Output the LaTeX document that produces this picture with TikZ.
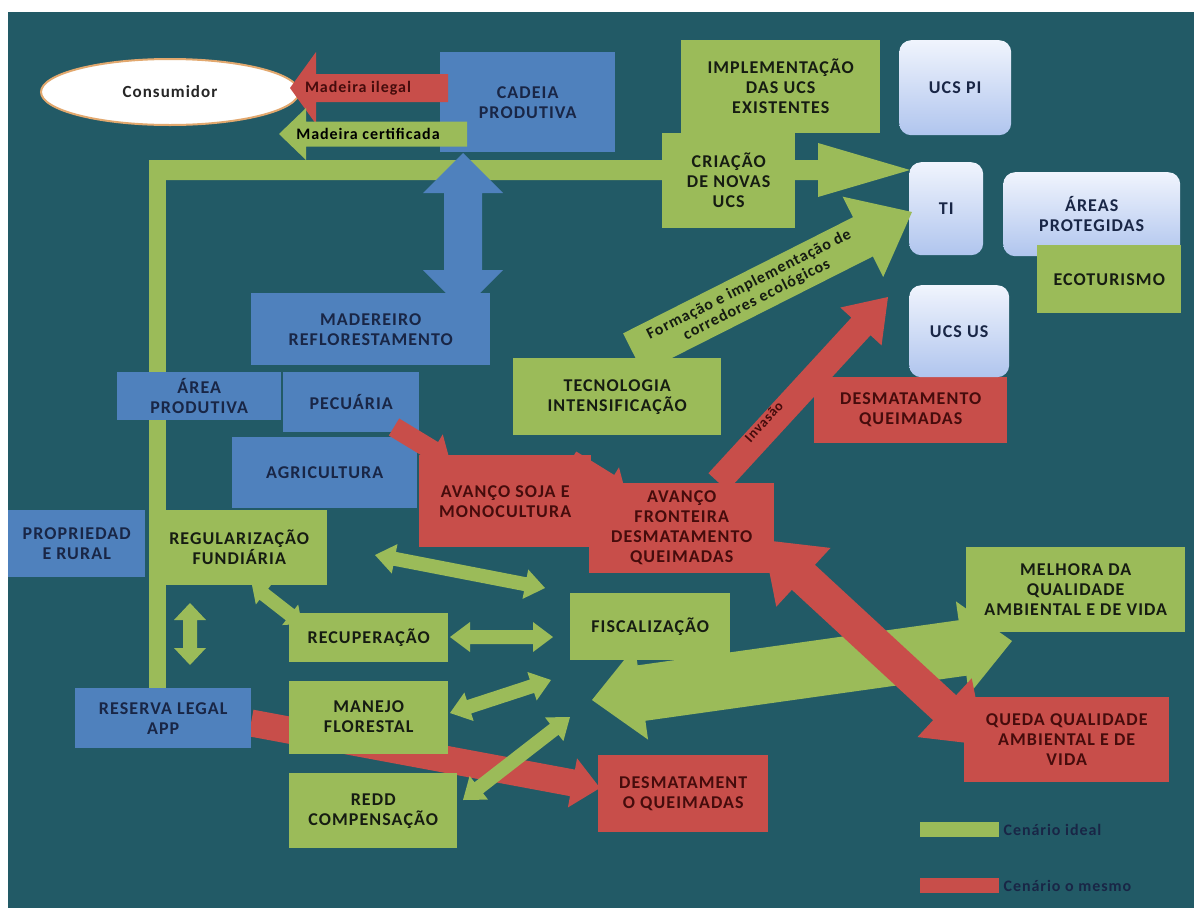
\documentclass[tikz,border=0pt]{standalone}
\usepackage{fontspec}
\setmainfont{Carlito}[LetterSpace=6]
\usetikzlibrary{calc, positioning, shapes.geometric}

\definecolor{bgteal}{RGB}{34,90,102}
\definecolor{okgreen}{RGB}{155,187,89}
\definecolor{prodblue}{RGB}{79,129,189}
\definecolor{badred}{RGB}{200,78,74}
\definecolor{ucstop}{RGB}{240,244,253}
\definecolor{ucsbot}{RGB}{176,197,238}
\definecolor{navytext}{RGB}{25,38,70}
\definecolor{darktext}{RGB}{22,28,18}
\definecolor{maroontext}{RGB}{70,12,12}
\definecolor{glowline}{RGB}{226,168,110}

% fat block arrow: style, from, to, half shaft, half head, head length
\newcommand{\blockarrow}[6]{%
    \coordinate (ba-base) at ($(#3)!#6!(#2)$);
    \fill[#1] ($(#2)!#4!90:(#3)$) -- ($(ba-base)!#4!90:(#3)$) -- ($(ba-base)!#5!90:(#3)$) -- (#3)
        -- ($(ba-base)!#5!-90:(#3)$) -- ($(ba-base)!#4!-90:(#3)$) -- ($(#2)!#4!-90:(#3)$) -- cycle;
}
% same with a head on both ends
\newcommand{\blockdarrow}[6]{%
    \coordinate (ba-base) at ($(#3)!#6!(#2)$);
    \coordinate (ba-tail) at ($(#2)!#6!(#3)$);
    \fill[#1] (#2) -- ($(ba-tail)!#5!90:(#3)$) -- ($(ba-tail)!#4!90:(#3)$) -- ($(ba-base)!#4!90:(#3)$)
        -- ($(ba-base)!#5!90:(#3)$) -- (#3) -- ($(ba-base)!#5!-90:(#3)$) -- ($(ba-base)!#4!-90:(#3)$)
        -- ($(ba-tail)!#4!-90:(#3)$) -- ($(ba-tail)!#5!-90:(#3)$) -- cycle;
}

\begin{document}
\begin{tikzpicture}[x=1pt, y=-1pt, font=\fontsize{18}{20}\selectfont\bfseries]
    \tikzstyle{box}=[rectangle, inner sep=2pt, align=center, anchor=north west]
    \tikzstyle{bluebox}=[box, fill=prodblue, text=navytext]
    \tikzstyle{greenbox}=[box, fill=okgreen, text=darktext]
    \tikzstyle{redbox}=[box, fill=badred, text=maroontext]
    \tikzstyle{ucsbox}=[box, rounded corners=12pt, top color=ucstop, bottom color=ucsbot, text=navytext]
    \tikzstyle{tag}=[inner sep=0pt, font=\fontsize{16}{17}\selectfont\bfseries]

    \useasboundingbox (0,0) rectangle (1194,908);
    \fill[white] (0,0) rectangle (1194,908);
    \fill[bgteal] (8,12) rectangle (1194,908);

    % green L line feeding TI
    \coordinate (l-foot) at (157.5,688);
    \coordinate (l-knee) at (157.5,160);
    \coordinate (l-start) at (149,170);
    \coordinate (l-tip) at (910,170);
    \draw[okgreen, line width=17pt] (l-foot) -- (l-knee);
    \blockarrow{okgreen}{l-start}{l-tip}{10pt}{27pt}{92pt}

    % reserva legal -> desmatamento (runs under manejo)
    \coordinate (rl-a) at (251,723);
    \coordinate (rl-b) at (600,788);
    \blockarrow{badred}{rl-a}{rl-b}{13.5pt}{25pt}{28pt}

    \node[ellipse, fill=white, draw=glowline, line width=2pt, minimum width=258pt, minimum height=66pt,
        font=\fontsize{17}{19}\selectfont\bfseries, text=black!85] (consumidor) at (170,92) {Consumidor};

    \node[bluebox, minimum width=175pt, minimum height=100pt] (cadeia) at (440,52) {CADEIA\\PRODUTIVA};
    \node[greenbox, minimum width=199pt, minimum height=93pt] (implem) at (681,40) {IMPLEMENTAÇÃO\\DAS UCS\\EXISTENTES};
    \node[ucsbox, minimum width=112pt, minimum height=95pt] (ucspi) at (899,40) {UCS PI};
    \node[greenbox, minimum width=133pt, minimum height=95pt] (criacao) at (662,133) {CRIAÇÃO\\DE NOVAS\\UCS};
    \node[ucsbox, minimum width=74pt, minimum height=93pt] (ti) at (909,162) {TI};
    \node[ucsbox, minimum width=177pt, minimum height=84pt] (areas) at (1003,172) {ÁREAS\\PROTEGIDAS};
    \node[greenbox, minimum width=144pt, minimum height=68pt] (ecoturismo) at (1037,245) {ECOTURISMO};
    \node[bluebox, minimum width=239pt, minimum height=72pt] (madereiro) at (251,293) {MADEREIRO\\REFLORESTAMENTO};
    \node[redbox, minimum width=193pt, minimum height=66pt] (desmat) at (814,377) {DESMATAMENTO\\QUEIMADAS};
    \node[ucsbox, minimum width=100pt, minimum height=92pt] (ucsus) at (909,285) {UCS US};
    \node[greenbox, minimum width=208pt, minimum height=77pt] (tecnologia) at (513,358) {TECNOLOGIA\\INTENSIFICAÇÃO};
    \node[bluebox, minimum width=164pt, minimum height=48pt] (areaprod) at (117,372) {ÁREA\\PRODUTIVA};
    \node[bluebox, minimum width=136pt, minimum height=60pt] (pecuaria) at (283,372) {PECUÁRIA};
    \node[bluebox, minimum width=185pt, minimum height=71pt] (agricultura) at (232,437) {AGRICULTURA};
    \node[redbox, minimum width=172pt, minimum height=92pt] (soja) at (419,455) {AVANÇO SOJA E\\MONOCULTURA};
    \node[redbox, minimum width=185pt, minimum height=90pt] (fronteira) at (589,483) {AVANÇO\\FRONTEIRA\\DESMATAMENTO\\QUEIMADAS};
    \node[bluebox, minimum width=137pt, minimum height=67pt] (propriedade) at (8,510) {PROPRIEDAD\\E RURAL};
    \node[greenbox, minimum width=176pt, minimum height=75pt] (regularizacao) at (151,510) {REGULARIZAÇÃO\\FUNDIÁRIA};
    \node[greenbox, minimum width=219pt, minimum height=85pt] (melhora) at (966,547) {MELHORA DA\\QUALIDADE\\AMBIENTAL E DE VIDA};
    \node[greenbox, minimum width=159pt, minimum height=49pt] (recuperacao) at (289,613) {RECUPERAÇÃO};
    \node[greenbox, minimum width=160pt, minimum height=67pt] (fiscalizacao) at (570,593) {FISCALIZAÇÃO};
    \node[bluebox, minimum width=176pt, minimum height=60pt] (reserva) at (75,688) {RESERVA LEGAL\\APP};
    \node[greenbox, below=18pt of recuperacao, minimum width=159pt, minimum height=73pt] (manejo) {MANEJO\\FLORESTAL};
    \node[redbox, minimum width=205pt, minimum height=85pt] (queda) at (964,697) {QUEDA QUALIDADE\\AMBIENTAL E DE\\VIDA};
    \node[greenbox, minimum width=168pt, minimum height=75pt] (redd) at (289,773) {REDD\\COMPENSAÇÃO};
    \node[redbox, minimum width=170pt, minimum height=77pt] (desmat2) at (598,755) {DESMATAMENT\\O QUEIMADAS};

    % timber leaving the chain
    \coordinate (ileg-a) at (448,88);
    \coordinate (ileg-b) at (290,88);
    \blockarrow{badred}{ileg-a}{ileg-b}{14pt}{36pt}{26pt}
    \node[tag, text=maroontext] (ileg-txt) at (358,88) {Madeira ilegal};
    \coordinate (cert-a) at (467,134);
    \coordinate (cert-b) at (279,134);
    \blockarrow{okgreen}{cert-a}{cert-b}{12.5pt}{26pt}{27pt}
    \node[tag, text=black] (cert-txt) at (368,134) {Madeira certificada};

    \coordinate (cad-a) at (463,153);
    \coordinate (cad-b) at (463,310);
    \blockdarrow{prodblue}{cad-a}{cad-b}{19pt}{40pt}{40pt}

    % corridors towards TI
    \coordinate (cor-a) at (633,353);
    \coordinate (cor-b) at (912,212);
    \blockarrow{okgreen}{cor-a}{cor-b}{22pt}{45pt}{55pt}
    \path (cor-a) -- (cor-b) node[tag, sloped, pos=0.43, align=center, font=\fontsize{16}{17}\selectfont\bfseries, text=darktext] (cor-txt) {Formação e implementação de\\corredores ecológicos};

    \coordinate (inv-a) at (718,482);
    \coordinate (inv-b) at (888,297);
    \blockarrow{badred}{inv-a}{inv-b}{13pt}{28pt}{40pt}
    \path (inv-a) -- (inv-b) node[tag, sloped, pos=0.3, above=2pt, font=\fontsize{14}{15}\selectfont\bfseries, text=maroontext] (inv-txt) {Invasão};

    \coordinate (pec-a) at (394,427);
    \coordinate (pec-b) at (450,461);
    \blockarrow{badred}{pec-a}{pec-b}{10pt}{19pt}{20pt}
    \coordinate (soj-a) at (571,460);
    \coordinate (soj-b) at (626,494);
    \blockarrow{badred}{soj-a}{soj-b}{10pt}{19pt}{20pt}

    % links to fiscalizacao
    \coordinate (rf-a) at (375,555);
    \coordinate (rf-b) at (545,588);
    \blockdarrow{okgreen}{rf-a}{rf-b}{7pt}{15pt}{20pt}
    \coordinate (cf-a) at (450,637);
    \coordinate (cf-b) at (553,637);
    \blockdarrow{okgreen}{cf-a}{cf-b}{7pt}{15pt}{20pt}
    \coordinate (mf-a) at (450,713);
    \coordinate (mf-b) at (551,680);
    \blockdarrow{okgreen}{mf-a}{mf-b}{7pt}{15pt}{20pt}
    \coordinate (df-a) at (463,800);
    \coordinate (df-b) at (570,717);
    \blockdarrow{okgreen}{df-a}{df-b}{7pt}{15pt}{20pt}
    \coordinate (rr-a) at (252,585);
    \coordinate (rr-b) at (302,624);
    \blockdarrow{okgreen}{rr-a}{rr-b}{7pt}{13pt}{15pt}
    \coordinate (vr-a) at (190,603);
    \coordinate (vr-b) at (190,665);
    \blockdarrow{okgreen}{vr-a}{vr-b}{7pt}{16pt}{17pt}

    % quality of life
    \coordinate (qa-a) at (592,700);
    \coordinate (qa-b) at (1012,641);
    \blockdarrow{okgreen}{qa-a}{qa-b}{28pt}{47pt}{50pt}
    \coordinate (fq-a) at (763,540);
    \coordinate (fq-b) at (985,745);
    \blockdarrow{badred}{fq-a}{fq-b}{17pt}{40pt}{55pt}

    % legend
    \node[fill=okgreen, inner sep=0pt, minimum width=79pt, minimum height=15pt, anchor=north west] (leg-ideal) at (920,822) {};
    \node[tag, text=navytext, right=4pt of leg-ideal] (leg-ideal-txt) {Cenário ideal};
    \node[fill=badred, inner sep=0pt, minimum width=79pt, minimum height=15pt, anchor=north west] (leg-same) at (920,878) {};
    \node[tag, text=navytext, right=4pt of leg-same] (leg-same-txt) {Cenário o mesmo};
\end{tikzpicture}
\end{document}
